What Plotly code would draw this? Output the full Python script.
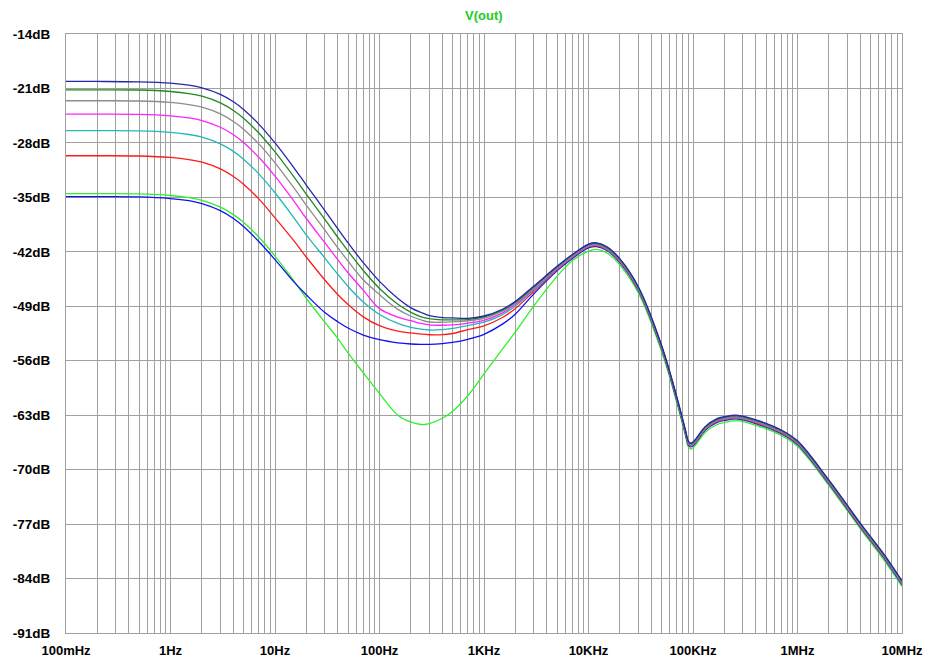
import plotly.graph_objects as go

# ---- data (frequency in Hz, magnitude in dB) ----
freq = [0.1, 0.2, 0.5, 1, 1.5, 2, 3, 4, 5, 7,
        10, 15, 20, 30, 40, 50, 70,
        100, 150, 200, 250, 300, 400, 500, 700,
        1000, 1500, 2000, 3000, 5000, 7000,
        10000, 12000, 15000, 20000, 30000, 50000, 70000, 85000, 90000, 95000,
        100000, 110000, 130000, 170000, 200000, 260000, 400000, 700000,
        1e6, 2e6, 4e6, 7e6, 1e7]

v_navy = [-20.1, -20.1, -20.15, -20.32, -20.58, -20.92, -21.76, -22.72, -23.7, -25.58,
          -28.0, -31.1, -33.45, -36.7, -39.05, -40.85, -43.4,
          -45.8, -48.0, -49.2, -49.8, -50.2, -50.45, -50.5, -50.55,
          -50.25, -49.38, -48.37, -46.4, -43.86, -42.35,
          -41.0, -40.85, -41.35, -42.9, -46.5, -54.0, -60.65, -65.0, -66.3, -66.6,
          -66.45, -65.8, -64.5, -63.45, -63.2, -63.0, -63.6, -64.9,
          -66.3, -71.35, -76.9, -81.2, -84.3]

v_dkgreen = [-21.17, -21.17, -21.2, -21.39, -21.66, -22.0, -22.86, -23.83, -24.83, -26.72,
             -29.15, -32.27, -34.62, -37.84, -40.16, -41.91, -44.4,
             -46.71, -48.75, -49.78, -50.35, -50.6, -50.75, -50.75, -50.71,
             -50.37, -49.5, -48.46, -46.52, -43.95, -42.42,
             -41.08, -40.93, -41.43, -42.98, -46.58, -54.08, -60.73, -65.08, -66.38, -66.68,
             -66.53, -65.88, -64.58, -63.53, -63.28, -63.08, -63.68, -64.98,
             -66.38, -71.43, -76.98, -81.28, -84.38]

v_gray = [-22.58, -22.58, -22.61, -22.8, -23.07, -23.41, -24.27, -25.24, -26.24, -28.13,
          -30.56, -33.68, -36.03, -39.21, -41.5, -43.2, -45.6,
          -47.5, -49.4, -50.28, -50.75, -51.02, -51.05, -51.0, -50.88,
          -50.54, -49.64, -48.6, -46.65, -44.03, -42.5,
          -41.15, -41.0, -41.5, -43.05, -46.65, -54.15, -60.8, -65.15, -66.45, -66.75,
          -66.6, -65.95, -64.65, -63.6, -63.35, -63.15, -63.75, -65.05,
          -66.45, -71.5, -77.05, -81.35, -84.45]

v_magenta = [-24.3, -24.3, -24.33, -24.52, -24.79, -25.13, -25.99, -26.96, -27.96, -29.85,
             -32.28, -35.4, -37.75, -40.83, -43.04, -44.69, -46.93,
             -49.3, -50.4, -50.86, -51.2, -51.4, -51.44, -51.4, -51.16,
             -50.8, -49.85, -48.75, -46.78, -44.1, -42.57,
             -41.22, -41.07, -41.57, -43.12, -46.72, -54.22, -60.87, -65.22, -66.52, -66.82,
             -66.67, -66.02, -64.72, -63.67, -63.42, -63.22, -63.82, -65.12,
             -66.52, -71.57, -77.12, -81.42, -84.52]

v_cyan = [-26.43, -26.43, -26.46, -26.65, -26.92, -27.26, -28.12, -29.09, -30.09, -31.98,
          -34.41, -37.53, -39.85, -42.8, -44.9, -46.45, -48.45,
          -50.05, -51.2, -51.7, -51.95, -52.05, -52.0, -51.85, -51.48,
          -51.05, -50.07, -48.96, -46.92, -44.2, -42.65,
          -41.3, -41.15, -41.65, -43.2, -46.8, -54.3, -60.95, -65.3, -66.6, -66.9,
          -66.75, -66.1, -64.8, -63.75, -63.5, -63.3, -63.9, -65.2,
          -66.6, -71.65, -77.2, -81.5, -84.6]

v_red = [-29.65, -29.65, -29.68, -29.87, -30.14, -30.48, -31.34, -32.31, -33.31, -35.2,
         -37.63, -40.5, -42.7, -45.62, -47.51, -48.77, -50.36,
         -51.5, -52.2, -52.43, -52.58, -52.66, -52.65, -52.5, -52.0,
         -51.52, -50.45, -49.28, -47.1, -44.3, -42.73,
         -41.38, -41.23, -41.73, -43.28, -46.88, -54.38, -61.03, -65.38, -66.68, -66.98,
         -66.83, -66.18, -64.88, -63.83, -63.58, -63.38, -63.98, -65.28,
         -66.68, -71.73, -77.28, -81.58, -84.68]

v_blue = [-34.91, -34.91, -34.94, -35.15, -35.43, -35.8, -36.7, -37.71, -38.74, -40.68,
          -43.0, -45.8, -47.55, -49.8, -51.0, -51.8, -52.7,
          -53.3, -53.7, -53.85, -53.9, -53.9, -53.8, -53.65, -53.25,
          -52.6, -51.3, -49.98, -47.4, -44.45, -42.85,
          -41.48, -41.33, -41.83, -43.38, -46.98, -54.48, -61.13, -65.48, -66.78, -67.08,
          -66.93, -66.28, -64.98, -63.93, -63.68, -63.48, -64.08, -65.38,
          -66.78, -71.83, -77.38, -81.68, -84.78]

v_green = [-34.53, -34.53, -34.56, -34.76, -35.03, -35.38, -36.25, -37.22, -38.2, -40.1,
           -42.55, -45.65, -48.0, -51.05, -53.15, -55.0, -57.55,
           -60.2, -63.0, -63.9, -64.2, -64.1, -63.4, -62.5, -60.5,
           -57.7, -54.5, -52.3, -48.95, -45.15, -43.15,
           -41.9, -41.68, -42.15, -43.7, -47.3, -54.8, -61.4, -65.75, -67.05, -67.35,
           -67.2, -66.55, -65.25, -64.2, -63.95, -63.7, -64.3, -65.6,
           -67.0, -72.05, -77.6, -81.95, -85.05]

x_tick_vals = [0.1, 1, 10, 100, 1e3, 1e4, 1e5, 1e6, 1e7]
x_tick_text = ["100mHz", "1Hz", "10Hz", "100Hz", "1KHz", "10KHz", "100KHz", "1MHz", "10MHz"]
y_tick_vals = [-14, -21, -28, -35, -42, -49, -56, -63, -70, -77, -84, -91]
y_tick_text = ["-14dB", "-21dB", "-28dB", "-35dB", "-42dB", "-49dB", "-56dB", "-63dB",
               "-70dB", "-77dB", "-84dB", "-91dB"]

series = [
    ("green", v_green, "#2ef02e"),
    ("blue", v_blue, "#1010f0"),
    ("red", v_red, "#ff1a1a"),
    ("cyan", v_cyan, "#22b8b8"),
    ("magenta", v_magenta, "#ff22ff"),
    ("gray", v_gray, "#8c8c8c"),
    ("darkgreen", v_dkgreen, "#1f8a1f"),
    ("navy", v_navy, "#2626a8"),
]

# minor grid positions (2..9 of each decade)
minor_vals = []
for dec in [0.1, 1, 10, 100, 1e3, 1e4, 1e5, 1e6]:
    for m in range(2, 10):
        minor_vals.append(dec * m)

GRID = "#a0a0a0"
FONT = "Liberation Sans, Arial, sans-serif"

fig = go.Figure()
for name, vals, col in series:
    fig.add_trace(go.Scatter(x=freq, y=vals, mode="lines", name=name,
                             line=dict(color=col, width=1.3, shape="spline", smoothing=1.0),
                             showlegend=False, hoverinfo="skip"))

fig.update_layout(
    width=932, height=663,
    margin=dict(l=66, r=30, t=34, b=30, autoexpand=False),
    paper_bgcolor="white", plot_bgcolor="white",
    showlegend=False,
    font=dict(family=FONT, size=13, color="black"),
)
fig.update_xaxes(
    type="log", range=[-1, 7], automargin=False,
    tickvals=x_tick_vals, ticktext=x_tick_text,
    tickfont=dict(family=FONT, size=13, color="black", weight="bold"),
    ticks="", ticklabelstandoff=5,
    showgrid=True, gridcolor=GRID, gridwidth=1,
    minor=dict(tickvals=minor_vals, showgrid=True, gridcolor=GRID, gridwidth=1, ticks=""),
    showline=True, mirror=True, linecolor=GRID, linewidth=1,
    zeroline=False,
)
fig.update_yaxes(
    range=[-91, -14], automargin=False,
    tickvals=y_tick_vals, ticktext=y_tick_text,
    tickfont=dict(family=FONT, size=13.5, color="black", weight="bold"),
    ticks="", ticklabelstandoff=12,
    showgrid=True, gridcolor=GRID, gridwidth=1,
    showline=True, mirror=True, linecolor=GRID, linewidth=1,
    zeroline=False,
)
fig.add_annotation(text="V(out)", xref="paper", yref="paper", x=0.5, y=1.0317,
                   xanchor="center", yanchor="middle", showarrow=False,
                   font=dict(family=FONT, size=13, color="#22cc22", weight="bold"))

fig.write_html("out.html", config={"displayModeBar": False},
               post_script="document.body.style.margin='0px';")
